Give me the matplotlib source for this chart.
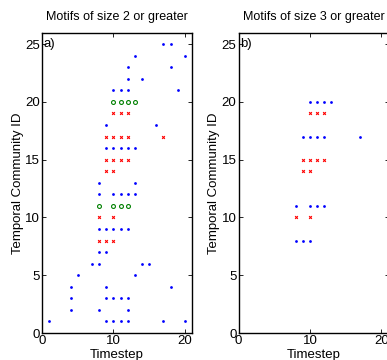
import matplotlib
matplotlib.use("Agg")
import matplotlib.pyplot as plt

plt.rcParams['font.family'] = ['Liberation Sans', 'DejaVu Sans']

# Panel a) motifs of size 2 or greater: (timestep, community id) pairs
a_blue = [
    (17, 25), (18, 25),
    (13, 24), (20, 24),
    (12, 23), (18, 23),
    (12, 22), (14, 22),
    (10, 21), (11, 21), (12, 21), (19, 21),
    (9, 18), (16, 18),
    (9, 16), (10, 16), (11, 16), (12, 16), (13, 16),
    (8, 13), (13, 13),
    (8, 12), (10, 12), (11, 12), (12, 12), (13, 12),
    (8, 9), (9, 9), (10, 9), (11, 9), (12, 9),
    (8, 7), (9, 7),
    (7, 6), (8, 6), (14, 6), (15, 6),
    (5, 5), (13, 5),
    (4, 4), (9, 4), (18, 4),
    (4, 3), (9, 3), (10, 3), (11, 3), (12, 3),
    (4, 2), (8, 2), (12, 2),
    (1, 1), (9, 1), (10, 1), (11, 1), (12, 1), (17, 1), (20, 1),
]
a_red = [
    (10, 19), (11, 19), (12, 19),
    (9, 17), (10, 17), (11, 17), (12, 17), (17, 17),
    (9, 15), (10, 15), (11, 15), (12, 15),
    (9, 14), (10, 14),
    (8, 10), (10, 10),
    (8, 8), (9, 8), (10, 8),
]
a_green = [
    (10, 20), (11, 20), (12, 20), (13, 20),
    (8, 11), (10, 11), (11, 11), (12, 11),
]

# Panel b) motifs of size 3 or greater
b_blue = [
    (10, 20), (11, 20), (12, 20), (13, 20),
    (9, 17), (10, 17), (11, 17), (12, 17), (17, 17),
    (8, 11), (10, 11), (11, 11), (12, 11),
    (8, 8), (9, 8), (10, 8),
]
b_red = [
    (10, 19), (11, 19), (12, 19),
    (9, 15), (10, 15), (11, 15), (12, 15),
    (9, 14), (10, 14),
    (8, 10), (10, 10),
]
b_green = []

titles = ["Motifs of size 2 or greater", "Motifs of size 3 or greater"]
panel_tags = ["a)", "b)"]
x_ticks = [0, 10, 20]
y_ticks = [0, 5, 10, 15, 20, 25]

W, H = 387, 360
fig = plt.figure(figsize=(W / 100, H / 100), dpi=100)

panels = [(a_blue, a_red, a_green), (b_blue, b_red, b_green)]
lefts = [42 / W, 238.5 / W]
bottom = 27 / H
width = 150 / W
height = 300.5 / H


def xy(points):
    return [p[0] for p in points], [p[1] for p in points]


for i, (blue, red, green) in enumerate(panels):
    ax = fig.add_axes([lefts[i], bottom, width, height])
    if blue:
        x, y = xy(blue)
        ax.plot(x, y, linestyle='none', marker='.', color='#0000ff',
                markersize=4.0, markeredgewidth=0)
    if red:
        x, y = xy(red)
        ax.plot(x, y, linestyle='none', marker='x', color='#ff0000',
                markersize=2.0, markeredgewidth=0.8)
    if green:
        x, y = xy(green)
        ax.plot(x, y, linestyle='none', marker='o', markerfacecolor='none',
                markeredgecolor='#008000', markersize=2.8, markeredgewidth=0.8)

    ax.set_xlim(0, 21)
    ax.set_ylim(0, 26)
    ax.set_xticks(x_ticks)
    ax.set_yticks(y_ticks)
    ax.tick_params(direction='in', top=True, right=True, length=3,
                   width=0.6, labelsize=9.5, pad=1.5)
    for s in ax.spines.values():
        s.set_linewidth(1.0)
    ax.set_title(titles[i], fontsize=9, pad=9)
    ax.set_xlabel("Timestep", fontsize=9.5, labelpad=1.5)
    ax.set_ylabel("Temporal Community ID", fontsize=9.5, labelpad=1)
    ax.text(0.25, 25, panel_tags[i], fontsize=9.5, va='center', ha='left')

fig.savefig("out.png", dpi=100)
